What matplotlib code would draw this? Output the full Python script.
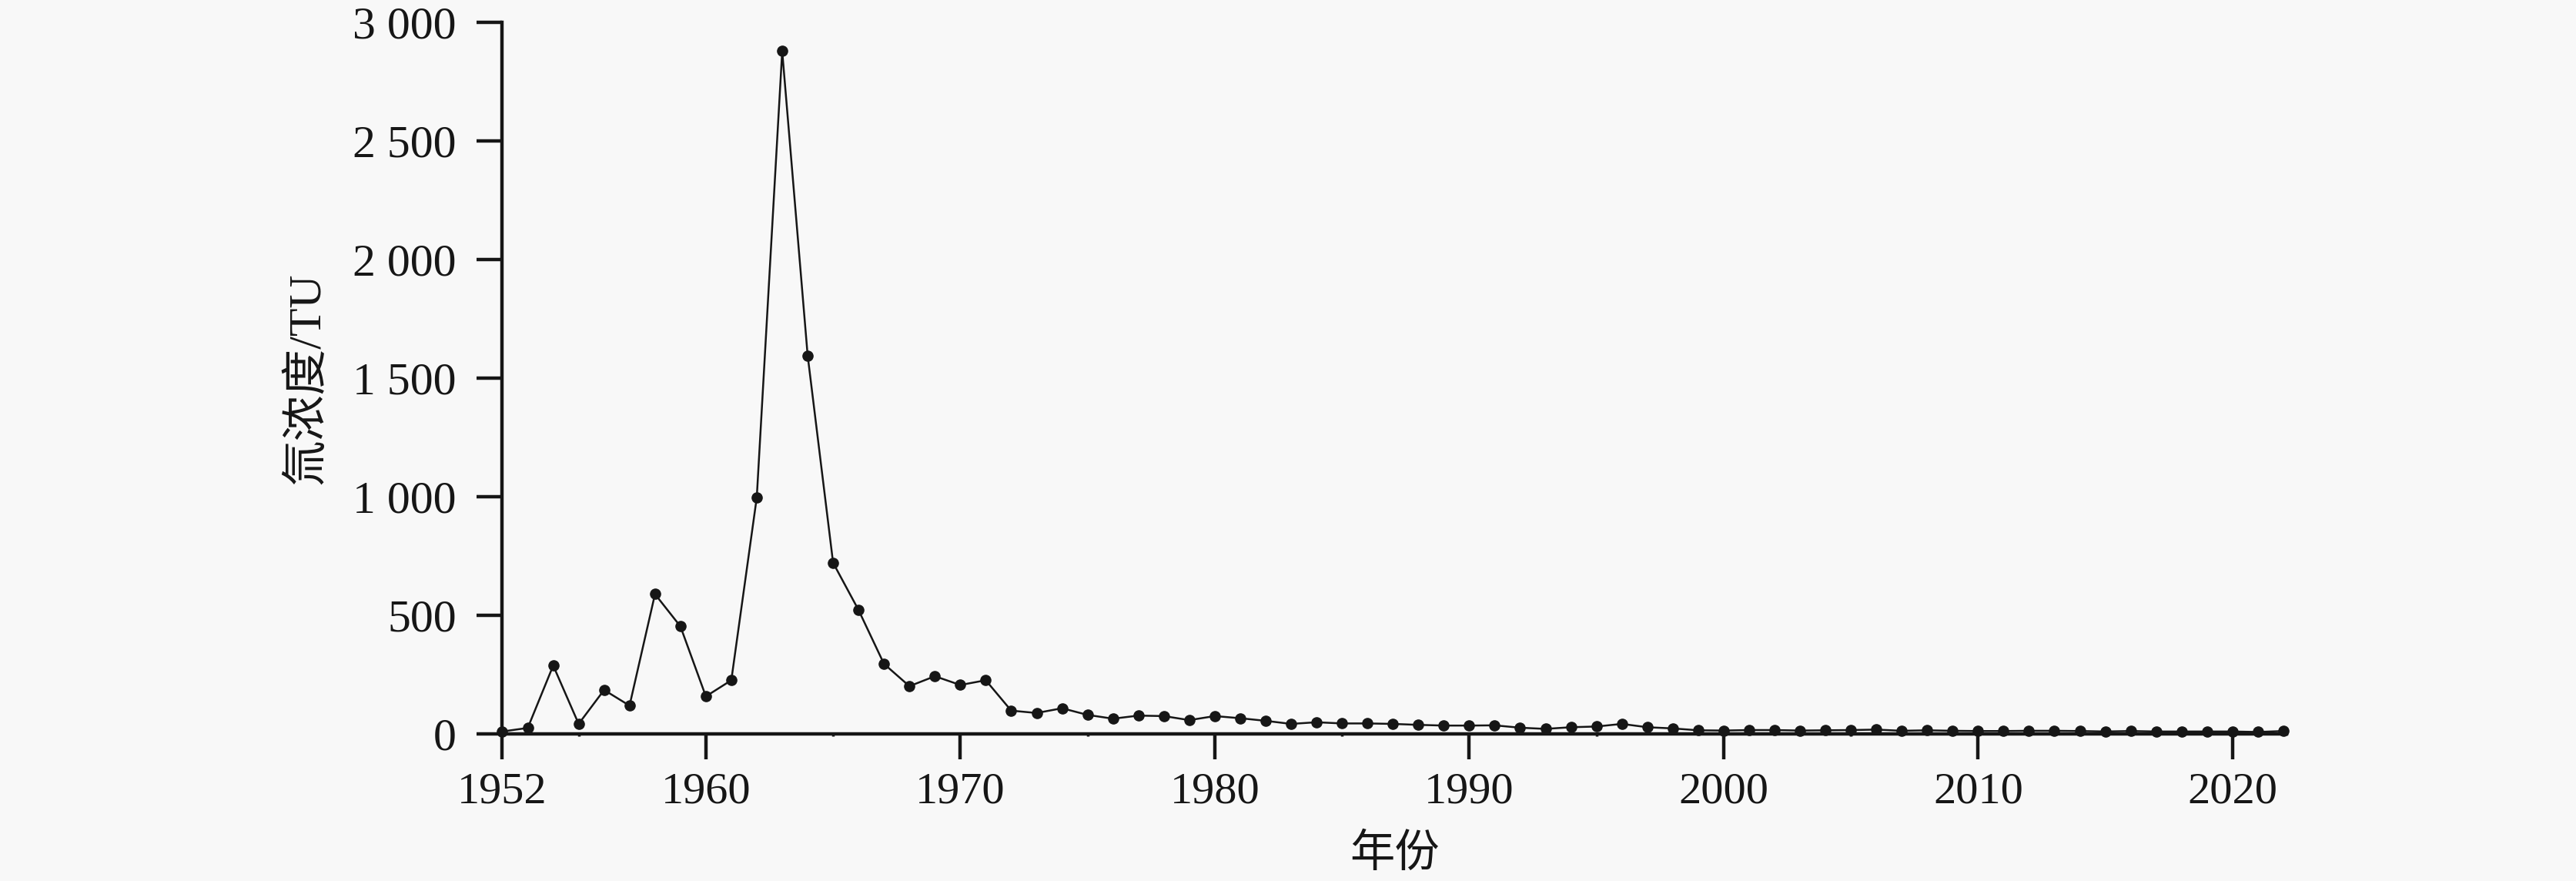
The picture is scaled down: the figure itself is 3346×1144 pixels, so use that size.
import matplotlib
matplotlib.use("Agg")
import matplotlib.pyplot as plt
from matplotlib.ticker import FixedLocator, FuncFormatter

# tritium concentration in precipitation
years = list(range(1952, 2023))
tritium = [10, 25, 288, 42, 185, 119, 589, 453, 158, 226,
           996, 2877, 1595, 721, 522, 295, 201, 243, 206, 226,
           98, 88, 108, 80, 64, 77, 75, 58, 75, 66,
           55, 42, 49, 44, 44, 42, 38, 35, 35, 36,
           26, 21, 28, 31, 42, 28, 23, 15, 14, 16,
           16, 14, 15, 16, 18, 13, 15, 13, 12, 12,
           13, 13, 12, 10, 12, 10, 10, 10, 10, 8, 12]

x_major = [1952, 1960, 1970, 1980, 1990, 2000, 2010, 2020]
x_minor = [1955, 1965, 1975, 1985, 1995, 2005, 2015]
y_major = [0, 500, 1000, 1500, 2000, 2500, 3000]

num_font = "Liberation Serif"
ink = "#161616"
bg = "#f8f8f8"

fig = plt.figure(figsize=(33.46, 11.44), dpi=100, facecolor=bg)
ax = fig.add_axes([0.195, 0.167, 0.6926, 0.808], facecolor=bg)

ax.plot(years, tritium, color=ink, lw=1.8, marker="o", ms=9.5,
        mfc=ink, mec=ink, clip_on=False, zorder=3)

ax.set_xlim(1952, 2022.12)
ax.set_ylim(0, 3000)

for side in ["top", "right"]:
    ax.spines[side].set_visible(False)
for side in ["left", "bottom"]:
    ax.spines[side].set_linewidth(3.2)
    ax.spines[side].set_color(ink)

ax.xaxis.set_major_locator(FixedLocator(x_major))
ax.xaxis.set_minor_locator(FixedLocator(x_minor))
ax.yaxis.set_major_locator(FixedLocator(y_major))


def thousands(v, pos):
    return "{:,}".format(int(v)).replace(",", " ")


ax.yaxis.set_major_formatter(FuncFormatter(thousands))

ax.tick_params(axis="both", which="major", direction="out", length=24,
               width=3.2, color=ink, labelcolor=ink)
ax.tick_params(axis="x", which="major", pad=12, labelsize=42)
ax.tick_params(axis="y", which="major", pad=19, labelsize=43)
ax.tick_params(axis="x", which="minor", direction="out", length=2.5,
               width=2.5, color=ink)
for lab in ax.get_xticklabels() + ax.get_yticklabels():
    lab.set_fontfamily(num_font)

ax.set_xlabel("年份", fontsize=42, family=[num_font, "Noto Sans CJK SC"],
              color=ink)
ax.xaxis.set_label_coords(0.5, -0.140)
ax.set_ylabel("氚浓度/TU", fontsize=43, family=[num_font, "Noto Sans CJK SC"],
              color=ink)
ax.yaxis.set_label_coords(-0.097, 0.5)

fig.savefig("out.png", dpi=100, facecolor=bg)
